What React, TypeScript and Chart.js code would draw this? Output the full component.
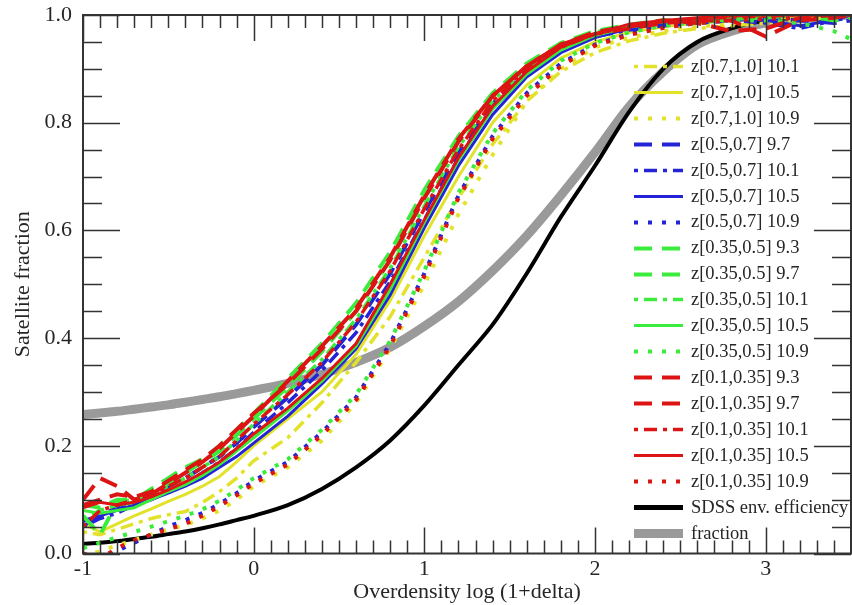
import React, { useEffect, useRef } from "react";
import { Chart, registerables } from "chart.js";

Chart.register(...registerables);

// x positions: Overdensity log(1+delta)
const X = [-1, -0.9, -0.8, -0.7, -0.6, -0.5, -0.4, -0.3, -0.2, -0.1, 0, 0.2, 0.4, 0.6, 0.8, 1.0, 1.2, 1.4, 1.6, 1.8, 2.0, 2.2, 2.4, 2.6, 2.8, 3.0, 3.2, 3.4, 3.5];

const Y_TICKS = [0, 0.2, 0.4, 0.6, 0.8, 1.0];
const X_TICKS = [-1, 0, 1, 2, 3];

// z[0.7,1.0]
const z07_101 = [0.04, 0.035, 0.045, 0.055, 0.065, 0.072, 0.078, 0.095, 0.115, 0.14, 0.172, 0.215, 0.28, 0.355, 0.44, 0.55, 0.66, 0.76, 0.84, 0.895, 0.93, 0.952, 0.966, 0.975, 0.98, 0.985, 0.99, 0.995, 1.0];
const z07_105 = [0.055, 0.04, 0.055, 0.07, 0.083, 0.097, 0.11, 0.125, 0.143, 0.17, 0.2, 0.25, 0.3, 0.37, 0.47, 0.59, 0.7, 0.8, 0.87, 0.92, 0.95, 0.968, 0.978, 0.985, 0.99, 0.993, 0.996, 1.0, 1.0];
const z07_109 = [-0.01, 0.005, 0.015, 0.025, 0.035, 0.045, 0.053, 0.065, 0.08, 0.1, 0.125, 0.16, 0.21, 0.28, 0.38, 0.5, 0.63, 0.74, 0.84, 0.9, 0.94, 0.958, 0.97, 0.978, 0.985, 0.99, 0.995, 0.998, 1.0];
// z[0.5,0.7]
const z05_97 = [0.06, 0.07, 0.085, 0.095, 0.11, 0.125, 0.14, 0.16, 0.18, 0.205, 0.235, 0.29, 0.35, 0.425, 0.52, 0.635, 0.745, 0.835, 0.895, 0.94, 0.962, 0.975, 0.985, 0.99, 0.99, 0.995, 0.99, 0.985, 0.99];
const z05_101 = [0.05, 0.065, 0.075, 0.09, 0.1, 0.115, 0.13, 0.15, 0.17, 0.195, 0.225, 0.28, 0.34, 0.41, 0.505, 0.62, 0.735, 0.83, 0.89, 0.935, 0.96, 0.972, 0.98, 0.985, 0.99, 0.985, 0.975, 0.99, 0.995];
const z05_105 = [0.05, 0.07, 0.08, 0.09, 0.1, 0.112, 0.125, 0.14, 0.16, 0.18, 0.205, 0.255, 0.315, 0.38, 0.48, 0.605, 0.72, 0.815, 0.885, 0.93, 0.958, 0.975, 0.985, 0.99, 0.995, 0.99, 0.98, 0.99, 1.0];
const z05_109 = [-0.02, -0.01, 0.005, 0.02, 0.035, 0.05, 0.062, 0.075, 0.092, 0.112, 0.135, 0.17, 0.225, 0.29, 0.39, 0.52, 0.665, 0.775, 0.855, 0.91, 0.945, 0.965, 0.978, 0.985, 0.99, 0.993, 0.995, 0.997, 1.0];
// z[0.35,0.5]
const z035_93 = [0.07, 0.035, 0.095, 0.1, 0.12, 0.14, 0.16, 0.175, 0.2, 0.23, 0.26, 0.325, 0.39, 0.465, 0.56, 0.675, 0.775, 0.855, 0.91, 0.948, 0.97, 0.982, 0.99, 0.985, 0.993, 0.995, 1.0, 1.0, 1.0];
const z035_97 = [0.09, 0.085, 0.1, 0.1, 0.11, 0.13, 0.15, 0.17, 0.19, 0.22, 0.25, 0.31, 0.375, 0.45, 0.545, 0.66, 0.765, 0.85, 0.905, 0.945, 0.968, 0.98, 0.99, 0.99, 0.995, 1.0, 1.0, 0.99, 0.995];
const z035_101 = [0.065, 0.08, 0.09, 0.095, 0.11, 0.125, 0.14, 0.16, 0.18, 0.21, 0.24, 0.3, 0.36, 0.435, 0.53, 0.645, 0.755, 0.84, 0.9, 0.94, 0.965, 0.978, 0.988, 0.993, 0.995, 0.998, 1.0, 1.0, 1.0];
const z035_105 = [0.08, 0.075, 0.08, 0.085, 0.1, 0.115, 0.128, 0.145, 0.165, 0.19, 0.215, 0.265, 0.32, 0.385, 0.49, 0.615, 0.73, 0.825, 0.89, 0.935, 0.962, 0.978, 0.988, 0.993, 0.996, 0.998, 1.0, 1.0, 1.0];
const z035_109 = [0.01, 0.02, 0.03, 0.04, 0.05, 0.06, 0.07, 0.082, 0.098, 0.118, 0.14, 0.175, 0.23, 0.295, 0.395, 0.525, 0.67, 0.78, 0.86, 0.915, 0.948, 0.968, 0.98, 0.987, 0.99, 0.99, 0.985, 0.97, 0.955];
// z[0.1,0.35]
const z01_93 = [0.1, 0.14, 0.125, 0.1, 0.11, 0.13, 0.15, 0.17, 0.195, 0.225, 0.255, 0.32, 0.385, 0.455, 0.55, 0.665, 0.77, 0.85, 0.905, 0.945, 0.965, 0.975, 0.985, 0.99, 0.99, 0.96, 0.99, 0.995, 1.0];
const z01_97 = [0.09, 0.1, 0.11, 0.105, 0.115, 0.135, 0.155, 0.175, 0.2, 0.23, 0.26, 0.315, 0.38, 0.45, 0.545, 0.66, 0.765, 0.85, 0.905, 0.945, 0.968, 0.98, 0.99, 0.985, 0.97, 0.975, 0.995, 1.0, 1.0];
const z01_101 = [0.05, 0.08, 0.09, 0.1, 0.11, 0.125, 0.14, 0.16, 0.18, 0.21, 0.24, 0.295, 0.355, 0.43, 0.525, 0.64, 0.75, 0.84, 0.9, 0.94, 0.965, 0.978, 0.988, 0.993, 0.996, 0.998, 1.0, 1.0, 1.0];
const z01_105 = [0.085, 0.095, 0.09, 0.095, 0.105, 0.118, 0.133, 0.15, 0.17, 0.195, 0.222, 0.27, 0.325, 0.39, 0.5, 0.62, 0.735, 0.83, 0.895, 0.94, 0.965, 0.983, 0.99, 0.995, 0.998, 1.0, 1.0, 1.0, 1.0];
const z01_109 = [0.0, -0.01, 0.01, 0.025, 0.035, 0.045, 0.055, 0.07, 0.088, 0.108, 0.13, 0.165, 0.22, 0.285, 0.385, 0.515, 0.66, 0.77, 0.85, 0.905, 0.943, 0.963, 0.976, 0.985, 0.99, 0.993, 0.995, 0.997, 1.0];
// references
const sdss = [0.018, 0.02, 0.023, 0.027, 0.031, 0.036, 0.041, 0.047, 0.054, 0.062, 0.07, 0.09, 0.12, 0.16, 0.21, 0.275, 0.35, 0.425, 0.52, 0.625, 0.72, 0.82, 0.9, 0.95, 0.975, 0.99, 0.995, 1.0, 1.0];
const fraction = [0.258, 0.261, 0.264, 0.268, 0.272, 0.276, 0.281, 0.286, 0.291, 0.297, 0.303, 0.316, 0.333, 0.355, 0.383, 0.422, 0.468, 0.525, 0.59, 0.665, 0.745, 0.83, 0.895, 0.945, 0.97, 0.985, 0.993, 0.998, 1.0];

const YELLOW = "#e2e22a";
const BLUE = "#2424d6";
const GREEN = "#3cec3c";
const RED = "#dc1414";

const STYLE: Record<string, { dash: number[]; width: number }> = {
  dash: { dash: [18, 10], width: 4 },
  dashdot: { dash: [4, 6, 13, 6], width: 3.5 },
  solid: { dash: [], width: 3 },
  dot: { dash: [4, 10], width: 4 },
};

const SERIES = [
  { label: "z[0.7,1.0] 10.1", data: z07_101, color: YELLOW, style: "dashdot", order: 60 },
  { label: "z[0.7,1.0] 10.5", data: z07_105, color: YELLOW, style: "solid", order: 60 },
  { label: "z[0.7,1.0] 10.9", data: z07_109, color: YELLOW, style: "dot", order: 60 },
  { label: "z[0.5,0.7] 9.7", data: z05_97, color: BLUE, style: "dash", order: 50 },
  { label: "z[0.5,0.7] 10.1", data: z05_101, color: BLUE, style: "dashdot", order: 50 },
  { label: "z[0.5,0.7] 10.5", data: z05_105, color: BLUE, style: "solid", order: 50 },
  { label: "z[0.5,0.7] 10.9", data: z05_109, color: BLUE, style: "dot", order: 50 },
  { label: "z[0.35,0.5] 9.3", data: z035_93, color: GREEN, style: "dash", order: 40 },
  { label: "z[0.35,0.5] 9.7", data: z035_97, color: GREEN, style: "dash", order: 40 },
  { label: "z[0.35,0.5] 10.1", data: z035_101, color: GREEN, style: "dashdot", order: 40 },
  { label: "z[0.35,0.5] 10.5", data: z035_105, color: GREEN, style: "solid", order: 40 },
  { label: "z[0.35,0.5] 10.9", data: z035_109, color: GREEN, style: "dot", order: 40 },
  { label: "z[0.1,0.35] 9.3", data: z01_93, color: RED, style: "dash", order: 30 },
  { label: "z[0.1,0.35] 9.7", data: z01_97, color: RED, style: "dash", order: 30 },
  { label: "z[0.1,0.35] 10.1", data: z01_101, color: RED, style: "dashdot", order: 30 },
  { label: "z[0.1,0.35] 10.5", data: z01_105, color: RED, style: "solid", order: 30 },
  { label: "z[0.1,0.35] 10.9", data: z01_109, color: RED, style: "dot", order: 30 },
];

const FONT = '"Liberation Serif", "Times New Roman", serif';
const INK = "#262626";

const framePlugin = {
  id: "frameTicksLegend",
  afterDraw(chart: any) {
    const ctx = chart.ctx as CanvasRenderingContext2D;
    const { left, right, top, bottom } = chart.chartArea;
    const xs = chart.scales.x;
    const ys = chart.scales.y;
    ctx.save();
    ctx.strokeStyle = "#333";
    ctx.lineWidth = 1.5;
    ctx.beginPath();
    for (let i = 0; i <= 45; i++) {
      const v = -1 + i * 0.1;
      const px = Math.round(xs.getPixelForValue(v)) + 0.5;
      const len = i % 10 === 0 ? 26 : 13;
      ctx.moveTo(px, bottom);
      ctx.lineTo(px, bottom - len);
      ctx.moveTo(px, top);
      ctx.lineTo(px, top + len);
    }
    for (let i = 0; i <= 20; i++) {
      const v = i * 0.05;
      const py = Math.round(ys.getPixelForValue(v)) + 0.5;
      const len = i % 4 === 0 ? 37 : 19;
      ctx.moveTo(left, py);
      ctx.lineTo(left + len, py);
      ctx.moveTo(right, py);
      ctx.lineTo(right - len, py);
    }
    ctx.stroke();
    ctx.lineWidth = 2;
    ctx.strokeRect(left, top, right - left, bottom - top);

    // legend
    const ds = chart.data.datasets;
    const x0 = 634, x1 = 683, tx = 691;
    ctx.font = `18.5px ${FONT}`;
    ctx.textBaseline = "middle";
    ctx.textAlign = "left";
    for (let i = 0; i < ds.length; i++) {
      const d = ds[i];
      const y = 66 + i * 25.94;
      ctx.beginPath();
      ctx.setLineDash(d.borderDash || []);
      ctx.lineDashOffset = 0;
      ctx.lineWidth = d.legendWidth || d.borderWidth;
      ctx.strokeStyle = d.borderColor;
      ctx.lineCap = "butt";
      ctx.moveTo(x0, Math.round(y) + 0.5);
      ctx.lineTo(x1, Math.round(y) + 0.5);
      ctx.stroke();
      ctx.setLineDash([]);
      ctx.fillStyle = INK;
      ctx.fillText(d.label, tx, y + 1);
    }
    ctx.restore();
  },
};

export default function App() {
  const ref = useRef<HTMLCanvasElement | null>(null);
  useEffect(() => {
    if (!ref.current) return;
    const toPts = (arr: number[]) => X.map((x, i) => ({ x, y: arr[i] }));
    const datasets: any[] = SERIES.map((s) => ({
      label: s.label,
      data: toPts(s.data),
      borderColor: s.color,
      backgroundColor: s.color,
      borderWidth: STYLE[s.style].width,
      borderDash: STYLE[s.style].dash,
      pointRadius: 0,
      tension: 0,
      fill: false,
      order: s.order,
    }));
    datasets.push({
      label: "SDSS env. efficiency",
      data: toPts(sdss),
      borderColor: "#000000",
      borderWidth: 4,
      legendWidth: 5,
      borderDash: [],
      pointRadius: 0,
      tension: 0.3,
      fill: false,
      order: 90,
    });
    datasets.push({
      label: "fraction",
      data: toPts(fraction),
      borderColor: "#9a9a9a",
      borderWidth: 9,
      legendWidth: 9,
      borderDash: [],
      pointRadius: 0,
      tension: 0.3,
      fill: false,
      order: 100,
    });

    const chart = new Chart(ref.current, {
      type: "line",
      data: { datasets },
      plugins: [framePlugin],
      options: {
        responsive: false,
        animation: false,
        layout: { padding: { top: 15, right: 1, left: 0, bottom: 0 } },
        plugins: { legend: { display: false }, tooltip: { enabled: false } },
        scales: {
          x: {
            type: "linear",
            min: -1,
            max: 3.5,
            afterBuildTicks: (scale: any) => {
              scale.ticks = X_TICKS.map((v) => ({ value: v }));
            },
            afterFit: (scale: any) => {
              scale.height = 51.5;
              scale.paddingLeft = 0;
              scale.paddingRight = 0;
            },
            grid: { display: false, drawTicks: false },
            border: { display: false },
            ticks: {
              padding: 3,
              color: INK,
              font: { family: FONT, size: 22 },
              callback: (v: any) => String(v),
              maxRotation: 0,
              autoSkip: false,
            },
            title: {
              display: true,
              text: "Overdensity log (1+delta)",
              color: INK,
              font: { family: FONT, size: 22 },
              padding: { top: 0, bottom: 0 },
            },
          },
          y: {
            type: "linear",
            min: 0,
            max: 1,
            afterBuildTicks: (scale: any) => {
              scale.ticks = Y_TICKS.map((v) => ({ value: v }));
            },
            afterFit: (scale: any) => {
              scale.width = 83;
              scale.paddingTop = 0;
              scale.paddingBottom = 0;
            },
            grid: { display: false, drawTicks: false },
            border: { display: false },
            ticks: {
              padding: 11,
              color: INK,
              font: { family: FONT, size: 22 },
              callback: (v: any) => Number(v).toFixed(1),
              autoSkip: false,
            },
            title: {
              display: true,
              text: "Satellite fraction",
              color: INK,
              font: { family: FONT, size: 22 },
              padding: { top: 10, bottom: 0 },
            },
          },
        },
      },
    });
    return () => chart.destroy();
  }, []);

  return (
    <div style={{ position: "fixed", left: 0, top: 0, width: 852, height: 605, background: "#fff" }}>
      <canvas ref={ref} width={852} height={605} style={{ display: "block" }} />
    </div>
  );
}
